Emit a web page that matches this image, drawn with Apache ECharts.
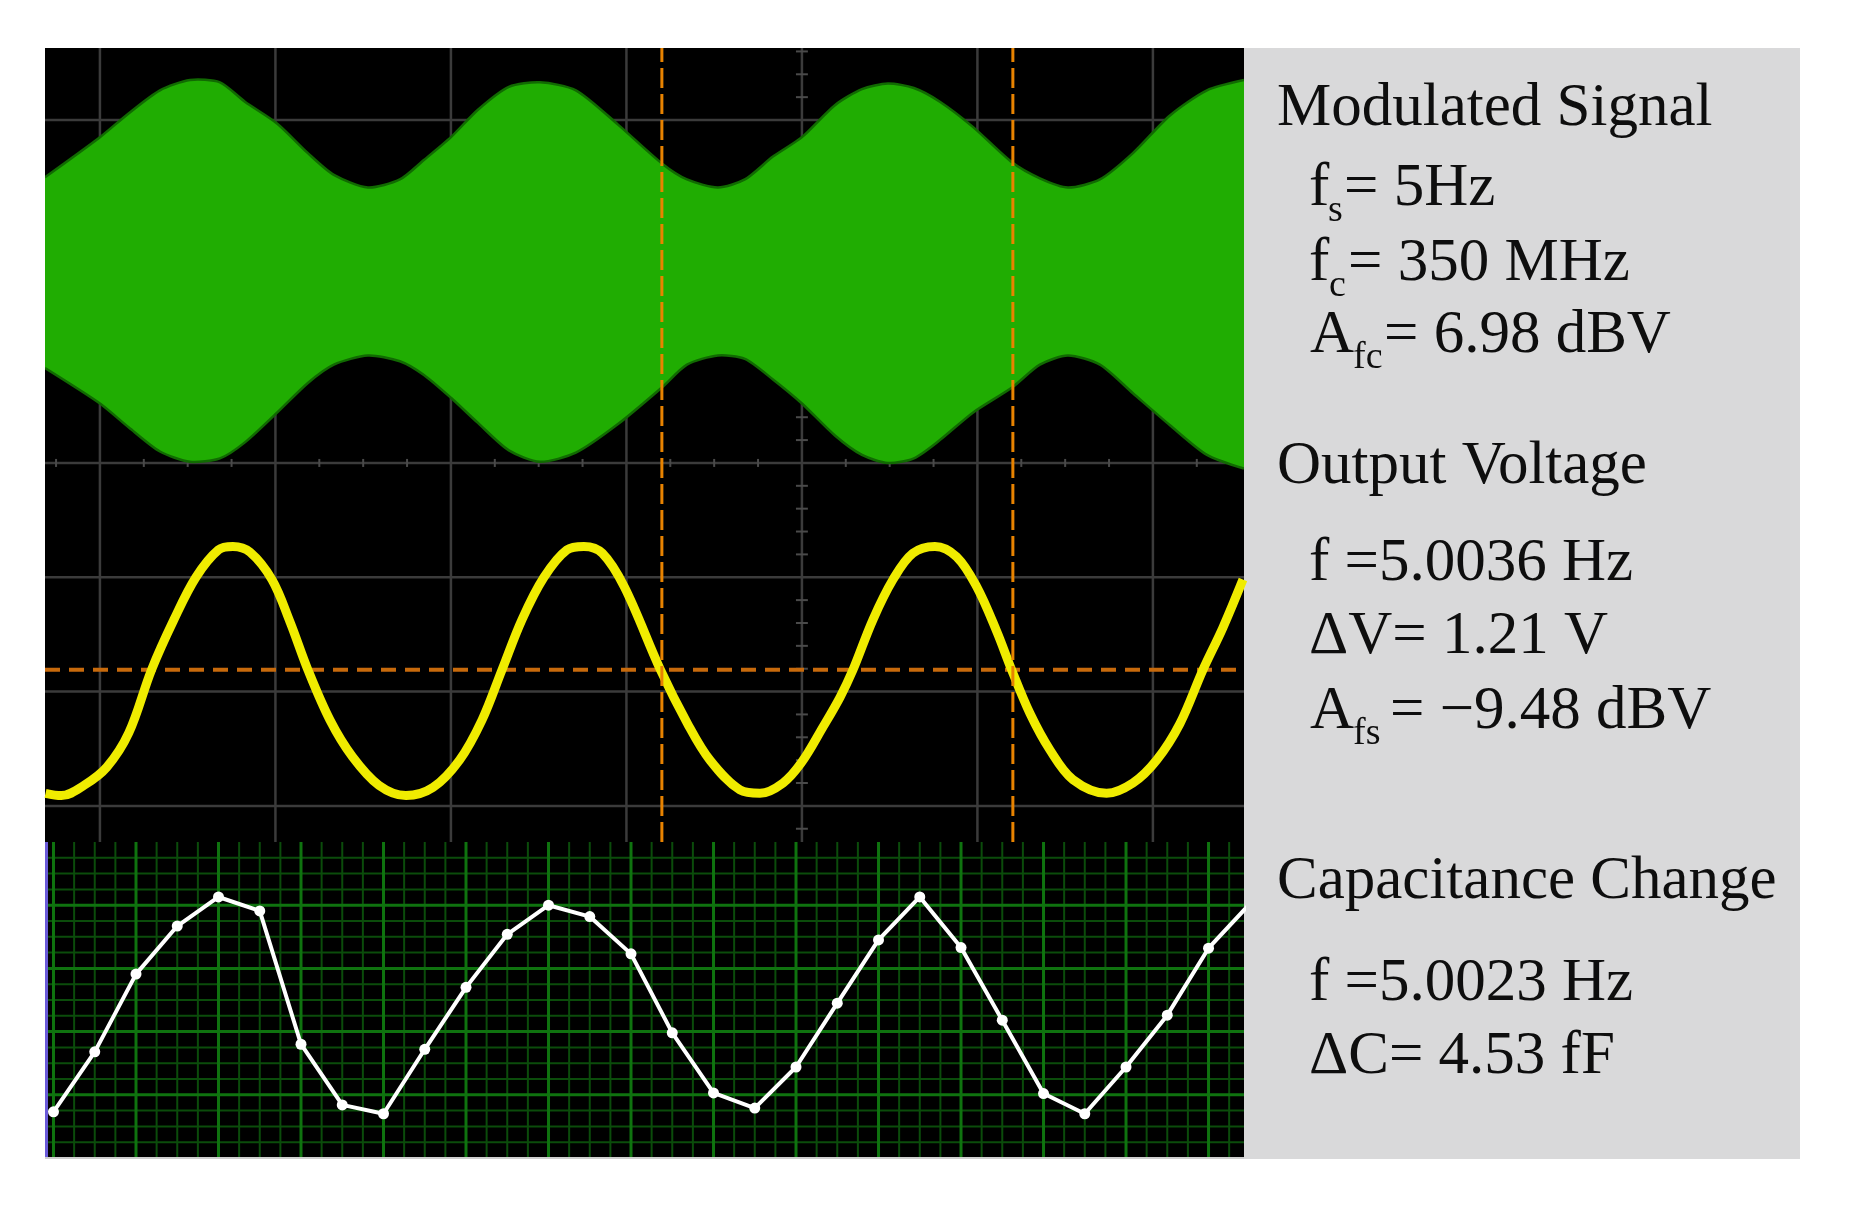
<!DOCTYPE html>
<html><head><meta charset="utf-8">
<script src="https://cdn.jsdelivr.net/npm/echarts@6/dist/echarts.min.js"></script>
<style>html,body{margin:0;padding:0;background:#fff}#c{width:1851px;height:1208px}</style>
</head><body><div id="c"></div><script>
// ================= DATA =================
// Modulated signal envelope: time (ms, 100 ms/div) and upper / lower envelope (divisions)
const envTime  = [-31.3, 0, 16.5, 34.2, 51.3, 68.4, 82.6, 100.9, 118.5, 133.3, 152.7, 170.9, 184.6, 200.0, 215.4, 233.0, 250.7, 271.2, 295.2, 320.2, 334.5, 352.1, 367.5, 383.5, 400.0, 418.8, 434.2, 449.0, 463.8, 478.6, 497.4, 519.7, 535.6, 551.6, 569.8, 588.6, 609.7, 630.8, 651.9];
const envUpper = [2.50, 2.85, 3.06, 3.26, 3.35, 3.33, 3.16, 2.97, 2.71, 2.52, 2.41, 2.48, 2.65, 2.85, 3.09, 3.29, 3.33, 3.26, 2.96, 2.62, 2.48, 2.41, 2.48, 2.68, 2.85, 3.13, 3.27, 3.32, 3.28, 3.16, 2.94, 2.63, 2.49, 2.41, 2.48, 2.71, 3.04, 3.26, 3.35];
const envLower = [0.83, 0.52, 0.31, 0.10, 0.01, 0.04, 0.18, 0.44, 0.70, 0.86, 0.94, 0.89, 0.77, 0.57, 0.35, 0.11, 0.01, 0.09, 0.34, 0.66, 0.86, 0.94, 0.91, 0.73, 0.52, 0.24, 0.07, 0.00, 0.04, 0.20, 0.44, 0.66, 0.86, 0.94, 0.86, 0.61, 0.33, 0.07, -0.05];

// Output voltage trace: time (ms) and level (divisions)
const outTime = [-31, -22, -9, 4, 16.5, 29.4, 42.2, 54.7, 67.6, 75.8, 85.5, 98, 108.3, 118.5, 131.1, 143.9, 159, 174.4, 189.7, 204.9, 217.7, 229.1, 240.5, 253, 266.1, 275.8, 286.3, 299, 319.4, 334.8, 347.6, 364.7, 376.1, 389.2, 399.8, 412, 421.7, 429.1, 440.5, 451.9, 463.2, 475.8, 488.1, 499.5, 510.9, 519.5, 529.9, 541.3, 554.4, 573.6, 588.6, 602.1, 615.4, 628.5, 639.9, 651.3];
const outLevel = [-2.89, -2.91, -2.82, -2.66, -2.36, -1.81, -1.37, -1.00, -0.76, -0.73, -0.78, -1.02, -1.39, -1.81, -2.25, -2.57, -2.82, -2.91, -2.84, -2.60, -2.25, -1.81, -1.37, -1.00, -0.76, -0.73, -0.79, -1.09, -1.81, -2.28, -2.60, -2.86, -2.89, -2.80, -2.62, -2.31, -2.05, -1.81, -1.37, -1.02, -0.79, -0.73, -0.82, -1.08, -1.47, -1.81, -2.19, -2.51, -2.77, -2.89, -2.80, -2.60, -2.28, -1.81, -1.44, -1.02];

// Cursors
const cursorTimes = [320.2, 520.2];
const cursorLevel = [-1.81];

// Capacitance change: sample position (divisions) and value (divisions)
const capPos   = [-1, -0.5, 0, 0.5, 1, 1.5, 2, 2.5, 3, 3.5, 4, 4.5, 5, 5.5, 6, 6.5, 7, 7.5, 8, 8.5, 9, 9.5, 10, 10.5, 11, 11.5, 12, 12.5, 13, 13.5];
const capValue = [0.73, 1.68, 2.91, 3.67, 4.13, 3.91, 1.80, 0.84, 0.70, 1.72, 2.70, 3.54, 4.00, 3.82, 3.23, 1.98, 1.03, 0.79, 1.44, 2.45, 3.45, 4.13, 3.33, 2.18, 1.02, 0.70, 1.44, 2.26, 3.32, 4.02];

// Graticule positions
const scopeXLines = [0, 100, 200, 300, 400, 500, 600];
const scopeYLines = [-3, -2, -1, 0, 1, 2, 3];
const capXMajor = [-1, 0, 1, 2, 3, 4, 5, 6, 7, 8, 9, 10, 11, 12, 13];
const capYMajor = [1, 2, 3, 4];

// Annotation texts
const headings = ['Modulated Signal', 'Output Voltage', 'Capacitance Change'];
const modLines = [['f', 's', '= 5Hz'], ['f', 'c', '= 350 MHz'], ['A', 'fc', '= 6.98 dBV']];
const outLines = ['f =5.0036 Hz', '\u0394V= 1.21 V', ['A', 'fs', '= \u22129.48 dBV']];
const capLines = ['f =5.0023 Hz', '\u0394C= 4.53 fF'];

// ================= CHART =================
const SX = [-31.3, 651.9], SY = [-3.316, 3.630];
const CX = [-1.103, 13.43], CY = [0, 5];

function seg(color, width, dash) {
  return function (params, api) {
    const p1 = api.coord([api.value(0), api.value(1)]);
    const p2 = api.coord([api.value(2), api.value(3)]);
    return { type: 'line', silent: true,
      shape: { x1: p1[0], y1: p1[1], x2: p2[0], y2: p2[1] },
      style: { stroke: color, lineWidth: width, lineDash: dash || null, fill: null } };
  };
}
function segSeries(name, xi, data, color, width, dash, z) {
  return { type: 'custom', name: name, xAxisIndex: xi, yAxisIndex: xi, data: data,
    renderItem: seg(color, width, dash), z: z, silent: true, animation: false, clip: true };
}

// envelope band (filled between upper and lower envelope)
function envelopeRender(params, api) {
  const up = envTime.map((t, i) => api.coord([t, envUpper[i]]));
  const lo = envTime.map((t, i) => api.coord([t, envLower[i]]));
  const n = up.length;
  const poly = [up[0]].concat(up, [up[n - 1], lo[n - 1]], lo.slice().reverse(), [lo[0]]);
  const S = 0.25;
  return { type: 'group', children: [
    { type: 'polygon', shape: { points: poly, smooth: S }, style: { fill: '#20ad02', stroke: null } },
    { type: 'polyline', shape: { points: up, smooth: S }, style: { stroke: '#116a02', lineWidth: 2.5, fill: null } },
    { type: 'polyline', shape: { points: lo, smooth: S }, style: { stroke: '#116a02', lineWidth: 2.5, fill: null } }
  ] };
}

// scope graticule
const scopeGrid = [];
scopeXLines.forEach(x => scopeGrid.push([x, SY[0], x, SY[1]]));
scopeYLines.forEach(y => scopeGrid.push([SX[0], y, SX[1], y]));
const scopeTicks = [];
for (let t = -25; t <= 650; t += 25) if (t % 100 !== 0) scopeTicks.push([t, -0.035, t, 0.035]);
for (let k = -16; k <= 18; k++) { const y = k / 5; if (k % 5 !== 0) scopeTicks.push([400 - 3.4, y, 400 + 3.4, y]); }

// capacitance graticule
const capMinor = [], capMajor = [];
for (let k = -4; k <= 53; k++) { const x = k / 4; if (k % 4 !== 0) capMinor.push([x, CY[0], x, CY[1]]); }
for (let k = 1; k < 20; k++) { const y = k / 4; if (k % 4 !== 0) capMinor.push([CX[0], y, CX[1], y]); }
capXMajor.forEach(x => capMajor.push([x, CY[0], x, CY[1]]));
capYMajor.forEach(y => capMajor.push([CX[0], y, CX[1], y]));

const cursorV = cursorTimes.map(t => [t, SY[0], t, SY[1]]);
const cursorH = cursorLevel.map(v => [SX[0], v, SX[1], v]);

const FONT = '"Liberation Serif","Times New Roman",serif';
const MAIN = 61, SUB = 38;
const graphics = [
  { type: 'rect', shape: { x: 1244, y: 48, width: 556, height: 1111 }, style: { fill: '#d9d9da' }, z: 0 },
  { type: 'rect', shape: { x: 45, y: 842, width: 3, height: 316 }, style: { fill: '#6a5ad8' }, z: 50 },
  { type: 'rect', shape: { x: 45, y: 1157, width: 1199, height: 2 }, style: { fill: '#cfcfcf' }, z: 50 }
];
function txt(str, x, base, size) {
  graphics.push({ type: 'text', x: x, y: base - 0.3375 * size, z: 60,
    style: { text: str, fontSize: size, fontFamily: FONT, fill: '#0e0e0e',
      align: 'left', verticalAlign: 'middle', textAlign: 'left', textVerticalAlign: 'middle' } });
}
function subLine(parts, x, base, subX, restX) {
  txt(parts[0], x, base, MAIN);
  txt(parts[1], subX, base + 14, SUB);
  txt(parts[2], restX, base, MAIN);
}
txt(headings[0], 1277, 130, MAIN);
subLine(modLines[0], 1309, 210, 1328, 1344);
subLine(modLines[1], 1309, 285, 1329, 1348);
subLine(modLines[2], 1310, 357, 1353, 1384);
txt(headings[1], 1277, 488, MAIN);
txt(outLines[0], 1309, 585, MAIN);
txt(outLines[1], 1309, 658, MAIN);
subLine(outLines[2], 1310, 733, 1353, 1390);
txt(headings[2], 1277, 903, MAIN);
txt(capLines[0], 1309, 1005, MAIN);
txt(capLines[1], 1309, 1078, MAIN);

const option = {
  backgroundColor: '#ffffff',
  animation: false,
  grid: [
    { left: 45, top: 48, width: 1199, height: 794, show: true, backgroundColor: '#000', borderWidth: 0 },
    { left: 45, top: 842, width: 1199, height: 316, show: true, backgroundColor: '#000', borderWidth: 0 }
  ],
  xAxis: [
    { type: 'value', gridIndex: 0, min: SX[0], max: SX[1], show: false },
    { type: 'value', gridIndex: 1, min: CX[0], max: CX[1], show: false }
  ],
  yAxis: [
    { type: 'value', gridIndex: 0, min: SY[0], max: SY[1], show: false },
    { type: 'value', gridIndex: 1, min: CY[0], max: CY[1], show: false }
  ],
  graphic: { elements: graphics },
  series: [
    segSeries('scopeGrid', 0, scopeGrid, '#3b3b3b', 2.5, null, 1),
    segSeries('scopeTicks', 0, scopeTicks, '#4a4a4a', 2, null, 1),
    { type: 'custom', name: 'Modulated Signal', xAxisIndex: 0, yAxisIndex: 0,
      data: [[envTime[0], envUpper[0]]], renderItem: envelopeRender, clip: true, z: 2, silent: true },
    segSeries('cursorH', 0, cursorH, '#c76a0c', 4, [15, 9], 3),
    { type: 'line', name: 'Output Voltage', xAxisIndex: 0, yAxisIndex: 0,
      data: outTime.map((t, i) => [t, outLevel[i]]), smooth: 0.35, symbol: 'none',
      lineStyle: { color: '#f0ec00', width: 9 }, z: 4 },
    segSeries('cursorV', 0, cursorV, '#e88300', 3, [20, 6], 5),
    segSeries('capMinor', 1, capMinor, '#0b4c0b', 2, null, 1),
    segSeries('capMajor', 1, capMajor, '#0f730f', 3, null, 1),
    { type: 'line', name: 'Capacitance Change', xAxisIndex: 1, yAxisIndex: 1,
      data: capPos.map((x, i) => [x, capValue[i]]), symbol: 'circle', symbolSize: 11,
      itemStyle: { color: '#ffffff' }, lineStyle: { color: '#ffffff', width: 4 }, z: 4 }
  ]
};
const chart = echarts.init(document.getElementById('c'));
chart.setOption(option);
</script></body></html>
